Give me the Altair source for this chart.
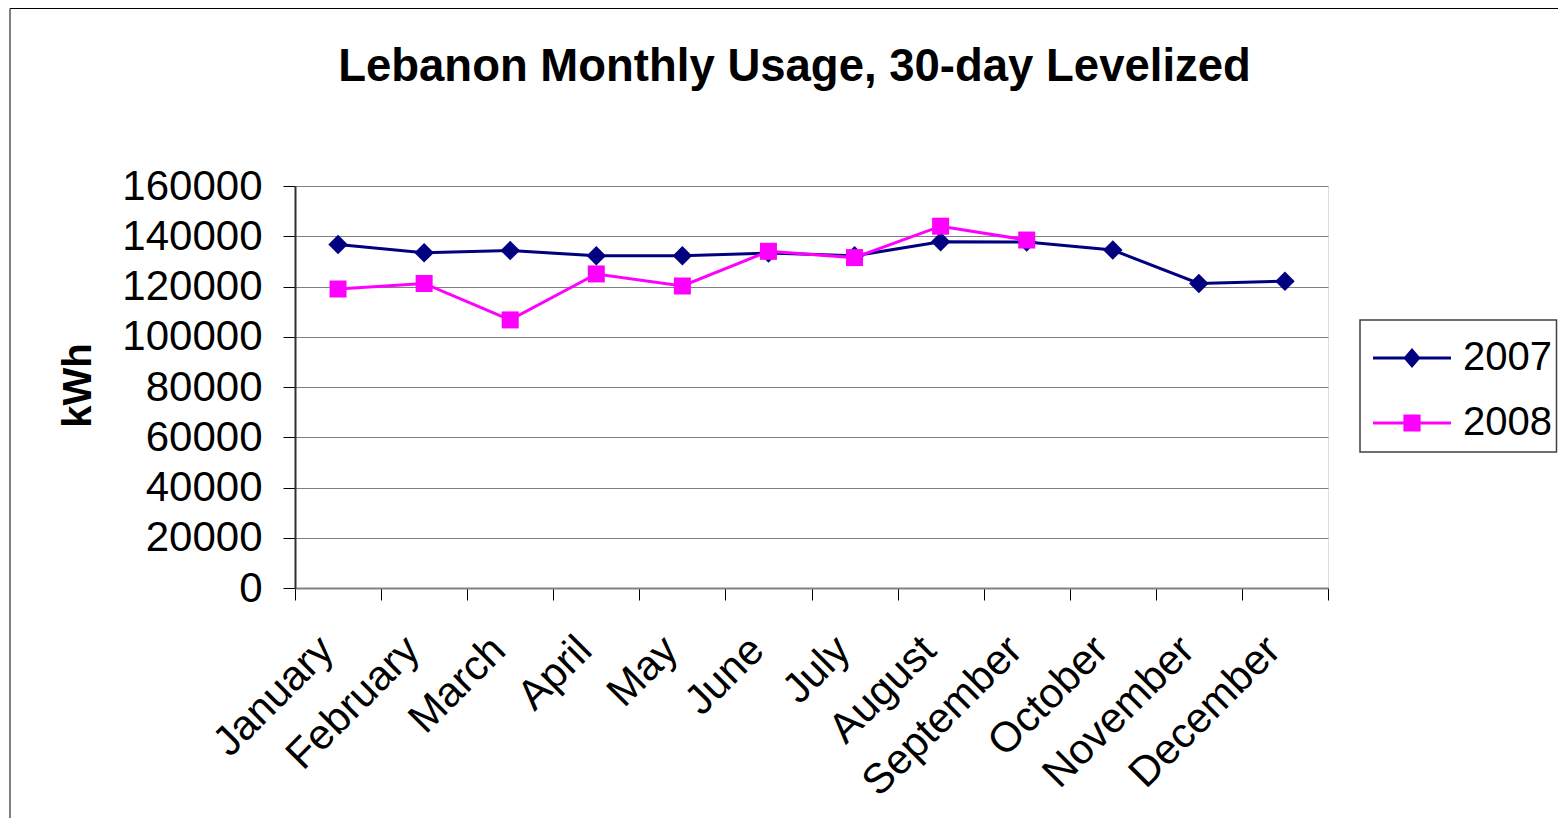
import altair as alt
import pandas as pd

months = ["January", "February", "March", "April", "May", "June",
          "July", "August", "September", "October", "November", "December"]
years = ["2007", "2008"]
usage_2007 = [136700, 133400, 134300, 132200, 132200, 133300,
              132200, 137800, 137700, 134500, 121200, 122100]
usage_2008 = [119000, 121200, 106700, 125000, 120200, 134000,
              131500, 144000, 138500]
colors = ["#000080", "#FF00FF"]
y_ticks = [0, 20000, 40000, 60000, 80000, 100000, 120000, 140000, 160000]

rows = []
for m, v in zip(months, usage_2007):
    rows.append({"month": m, "series": "2007", "kwh": v})
for m, v in zip(months, usage_2008):
    rows.append({"month": m, "series": "2008", "kwh": v})
df = pd.DataFrame(rows)

FONT = "Liberation Sans"

# legend symbols: line segment + marker (custom paths, unit = 20px)
sym_2007 = ("M-1.95,-0.07H1.95V0.07H-1.95Z "
            "M0,-0.5L0.43,0L0,0.5L-0.43,0Z")
sym_2008 = ("M-1.95,-0.07H1.95V0.07H-1.95Z "
            "M-0.43,-0.43H0.43V0.43H-0.43Z")

x_enc = alt.X(
    "month:N", sort=months, bandPosition=0.5,
    scale=alt.Scale(type="band", paddingInner=0, paddingOuter=0),
    axis=alt.Axis(title=None, labelAngle=-45, labelAlign="right",
                  labelBaseline="middle", labelFontSize=42, labelFont=FONT,
                  labelColor="black", tickBand="extent", tickSize=12,
                  tickColor="black", tickWidth=1, domainColor="#808080",
                  domainWidth=2, labelPadding=43, labelOffset=-12,
                  labelLimit=0, labelOverlap=False,
                  labelBound=False, labelFlush=False, grid=False),
)
y_enc = alt.Y(
    "kwh:Q",
    scale=alt.Scale(domain=[0, 160000], nice=False, zero=True),
    axis=alt.Axis(values=y_ticks, title="kWh", titleFontSize=40,
                  titleFont=FONT, titleFontWeight="bold", titleColor="black",
                  titleX=-205, titleY=199, titleAlign="center",
                  titleBaseline="alphabetic", titleAngle=270,
                  labelFontSize=42, labelFont=FONT, labelColor="black",
                  labelPadding=21, tickSize=12, tickColor="black", tickWidth=1,
                  domainColor="#303030", domainWidth=2, grid=True,
                  gridColor="#808080", gridWidth=1, format="d"),
)

base = alt.Chart(df)

def series_layers(year, color, shape, size):
    sub = base.transform_filter(alt.datum.series == year)
    line = sub.mark_line(color=color, strokeWidth=3).encode(x=x_enc, y=y_enc)
    pts = sub.mark_point(shape=shape, filled=True, size=size, color=color,
                         opacity=1).encode(x=x_enc, y=y_enc)
    return [line, pts]

legend_props = dict(orient="none", legendX=1065, legendY=152,
                    labelFontSize=40, labelFont=FONT, labelColor="black",
                    symbolSize=1600, symbolStrokeWidth=0, symbolOffset=32,
                    labelOffset=31, rowPadding=25, padding=0)

legend_layer = base.transform_filter("datum.kwh < 0").mark_point(
    filled=True, size=1600, opacity=1
).encode(
    x=x_enc, y=y_enc,
    color=alt.Color("series:N", title=None,
                    scale=alt.Scale(domain=years, range=colors),
                    legend=alt.Legend(**legend_props)),
    shape=alt.Shape("series:N", title=None,
                    scale=alt.Scale(domain=years, range=[sym_2007, sym_2008]),
                    legend=alt.Legend(**legend_props)),
)

# decorations: outer chart frame and legend box
frame = alt.Chart(alt.Data(values=[{}])).mark_rect(
    fill="transparent", stroke="black", strokeWidth=1
).encode(x=alt.value(-285), x2=alt.value(1300), y=alt.value(-177.5),
         y2=alt.value(700))
legend_box = alt.Chart(alt.Data(values=[{}])).mark_rect(
    fill="white", stroke="#404040", strokeWidth=1.5
).encode(x=alt.value(1065), x2=alt.value(1261.5), y=alt.value(134),
         y2=alt.value(266))

layers = [frame, legend_box]
layers += series_layers("2007", colors[0], "diamond", 380)
layers += series_layers("2008", colors[1], "square", 289)
layers.append(legend_layer)

chart = alt.layer(*layers).properties(
    width=1033, height=402,
    autosize=alt.AutoSizeParams(type="none"),
    padding={"left": 287, "top": 178, "right": 230, "bottom": 230},
    title=alt.TitleParams("Lebanon Monthly Usage, 30-day Levelized",
                          fontSize=45.5, font=FONT, fontWeight="bold",
                          color="black", anchor="middle", dx=-17,
                          offset=0, dy=118, baseline="alphabetic"),
).configure_view(stroke="#888888", strokeWidth=2).configure(background="white")

chart.save("out.html", embed_options={"renderer": "svg", "actions": False})
